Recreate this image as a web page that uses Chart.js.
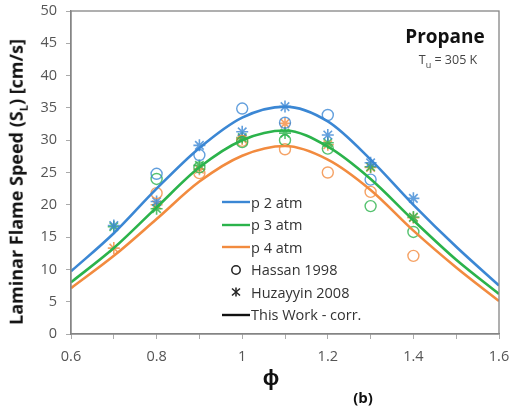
<!DOCTYPE html>
<html>
<head>
<meta charset="utf-8">
<script src="https://cdn.jsdelivr.net/npm/chart.js@4.4.1/dist/chart.umd.min.js"></script>
<style>
  html, body { margin: 0; padding: 0; background: #fff; }
  #wrap { position: relative; width: 511px; height: 412px; font-family: "Open Sans", sans-serif; }
  #wrap canvas { position: absolute; left: 0; top: 0; }
  .txt { position: absolute; white-space: nowrap; color: #222; }
  .ytitle { left: 17px; top: 182px; transform: translate(-50%, -50%) rotate(-90deg); font-weight: bold; font-size: 18px; color: #111; }
  .xtitle { left: 271px; top: 376px; transform: translate(-50%, -50%); font-weight: bold; font-size: 22px; color: #111; }
  .tag { left: 363px; top: 397px; transform: translate(-50%, -50%); font-weight: bold; font-size: 15px; color: #111; }
  .fuel { left: 445px; top: 36px; transform: translate(-50%, -50%); font-weight: bold; font-size: 19px; color: #111; }
  .temp { left: 448px; top: 61px; transform: translate(-50%, -50%); font-size: 12.5px; color: #444; }
  .leg { position: absolute; left: 220px; height: 20px; display: flex; align-items: center; font-size: 14.5px; color: #333; }
  .leg svg { width: 30px; height: 20px; margin-right: 1px; }
</style>
</head>
<body>
<div id="wrap">
  <canvas id="c" width="511" height="412"></canvas>
  <div class="txt ytitle">Laminar Flame Speed (S<sub style="font-size:11px">L</sub>) [cm/s]</div>
  <div class="txt xtitle">ϕ</div>
  <div class="txt tag">(b)</div>
  <div class="txt fuel">Propane</div>
  <div class="txt temp">T<sub style="font-size:9px">u</sub> = 305 K</div>
  <div id="legend"></div>
</div>
<script>
// ── data ──
const phiCurve = [0.6, 0.7, 0.8, 0.9, 1.0, 1.1, 1.2, 1.3, 1.4, 1.5, 1.6];
const corrP2 = [9.7, 15.6, 22.5, 28.8, 33.5, 35.2, 32.9, 27.0, 20.0, 13.5, 7.5];
const corrP3 = [8.0, 13.3, 19.6, 25.8, 30.0, 31.5, 29.0, 24.0, 17.6, 11.5, 6.2];
const corrP4 = [7.1, 12.1, 17.8, 23.6, 27.6, 29.1, 27.0, 22.3, 16.0, 10.3, 5.1];

const phiExp = [0.7, 0.8, 0.9, 1.0, 1.1, 1.2, 1.3, 1.4];
const hassanP2 = [null, 24.8, 27.7, 34.9, 32.7, 33.9, 23.9, null];
const hassanP3 = [null, 24.0, 25.8, 29.7, 30.0, 28.7, 19.8, 15.8];
const hassanP4 = [null, 21.8, 24.9, 29.9, 28.6, 25.0, 22.0, 12.1];
const huzP2 = [16.8, 20.5, 29.2, 31.3, 35.2, 30.8, 26.5, 21.0];
const huzP3 = [16.6, 19.4, 26.1, 30.4, 31.1, 29.6, 25.9, 18.1];
const huzP4 = [13.3, 20.0, 25.5, 30.2, 32.6, 29.3, 25.8, 18.0];

const BLUE = '#3b87d4', GREEN = '#2bb34b', ORANGE = '#f28b3f';

const legendItems = [
  { label: 'p 2 atm', kind: 'line', color: BLUE },
  { label: 'p 3 atm', kind: 'line', color: GREEN },
  { label: 'p 4 atm', kind: 'line', color: ORANGE },
  { label: 'Hassan 1998', kind: 'circle', color: '#222' },
  { label: 'Huzayyin 2008', kind: 'star', color: '#222' },
  { label: 'This Work - corr.', kind: 'line', color: '#111' }
];

function pts(xs, ys) { return xs.map((x, i) => ({ x, y: ys[i] })); }
function hexA(hex, a) {
  const n = parseInt(hex.slice(1), 16);
  return `rgba(${n >> 16},${(n >> 8) & 255},${n & 255},${a})`;
}

function curve(ys, color) {
  return { data: pts(phiCurve, ys), borderColor: color, borderWidth: 2.6, pointRadius: 0,
           tension: 0.4, cubicInterpolationMode: 'monotone', fill: false };
}
function circles(ys, color) {
  return { data: pts(phiExp, ys), showLine: false, pointStyle: 'circle', pointRadius: 5.5,
           pointBorderWidth: 1.4, pointBackgroundColor: 'transparent', pointBorderColor: hexA(color, 0.8) };
}
function stars(ys, color) {
  return { data: pts(phiExp, ys), showLine: false, pointStyle: 'star', pointRadius: 6,
           pointBorderWidth: 1.6, pointBackgroundColor: 'transparent', pointBorderColor: hexA(color, 0.8) };
}

// ── legend (html) ──
const rowY = [202, 224.5, 247, 269.5, 292, 314.5];
document.getElementById('legend').innerHTML = legendItems.map((it, i) => {
  let sym = '';
  if (it.kind === 'line') sym = `<line x1="2" y1="10" x2="30" y2="10" stroke="${it.color}" stroke-width="2.4"/>`;
  else if (it.kind === 'circle') sym = `<circle cx="16" cy="10" r="4.2" fill="none" stroke="${it.color}" stroke-width="1.5"/>`;
  else sym = `<g stroke="${it.color}" stroke-width="1.5"><line x1="16" y1="5.5" x2="16" y2="14.5"/><line x1="12" y1="6.5" x2="20" y2="13.5"/><line x1="20" y1="6.5" x2="12" y2="13.5"/></g>`;
  return `<div class="leg" style="top:${rowY[i] - 10}px"><svg viewBox="0 0 30 20">${sym}</svg>${it.label}</div>`;
}).join('');

// ── frame plugin ──
const frame = {
  id: 'frame',
  afterDraw(c) {
    const { ctx, chartArea: a } = c;
    ctx.save();
    ctx.strokeStyle = '#858585';
    ctx.lineWidth = 1.3;
    ctx.strokeRect(a.left, a.top, a.right - a.left, a.bottom - a.top);
    ctx.restore();
  }
};

const tickFont = { family: 'Open Sans', size: 14.5 };

new Chart(document.getElementById('c'), {
  type: 'line',
  data: {
    datasets: [
      curve(corrP2, BLUE), curve(corrP3, GREEN), curve(corrP4, ORANGE),
      circles(hassanP2, BLUE), circles(hassanP3, GREEN), circles(hassanP4, ORANGE),
      stars(huzP2, BLUE), stars(huzP3, GREEN), stars(huzP4, ORANGE)
    ]
  },
  options: {
    responsive: false, animation: false,
    layout: { padding: { left: 0, right: 12, top: 11, bottom: 0 } },
    plugins: { legend: { display: false }, tooltip: { enabled: false } },
    scales: {
      x: {
        type: 'linear', min: 0.6, max: 1.6,
        ticks: {
          stepSize: 0.1, color: '#555', font: tickFont, padding: 9, maxRotation: 0, autoSkip: false,
          callback: v => { const k = Math.round(v * 10); return k % 2 === 0 ? String(k / 10) : ''; }
        },
        grid: { drawOnChartArea: false, tickLength: 5, color: '#aaa' },
        border: { color: '#858585', width: 1.3 },
        afterFit: s => { s.height = 78; s.paddingLeft = 0; s.paddingRight = 0; }
      },
      y: {
        min: 0, max: 50,
        ticks: { stepSize: 5, color: '#555', font: tickFont, padding: 9 },
        grid: { drawOnChartArea: false, tickLength: 5, color: '#aaa' },
        border: { color: '#858585', width: 1.3 },
        afterFit: s => { s.width = 71; s.paddingTop = 0; s.paddingBottom = 0; }
      }
    }
  },
  plugins: [frame]
});
</script>
</body>
</html>
